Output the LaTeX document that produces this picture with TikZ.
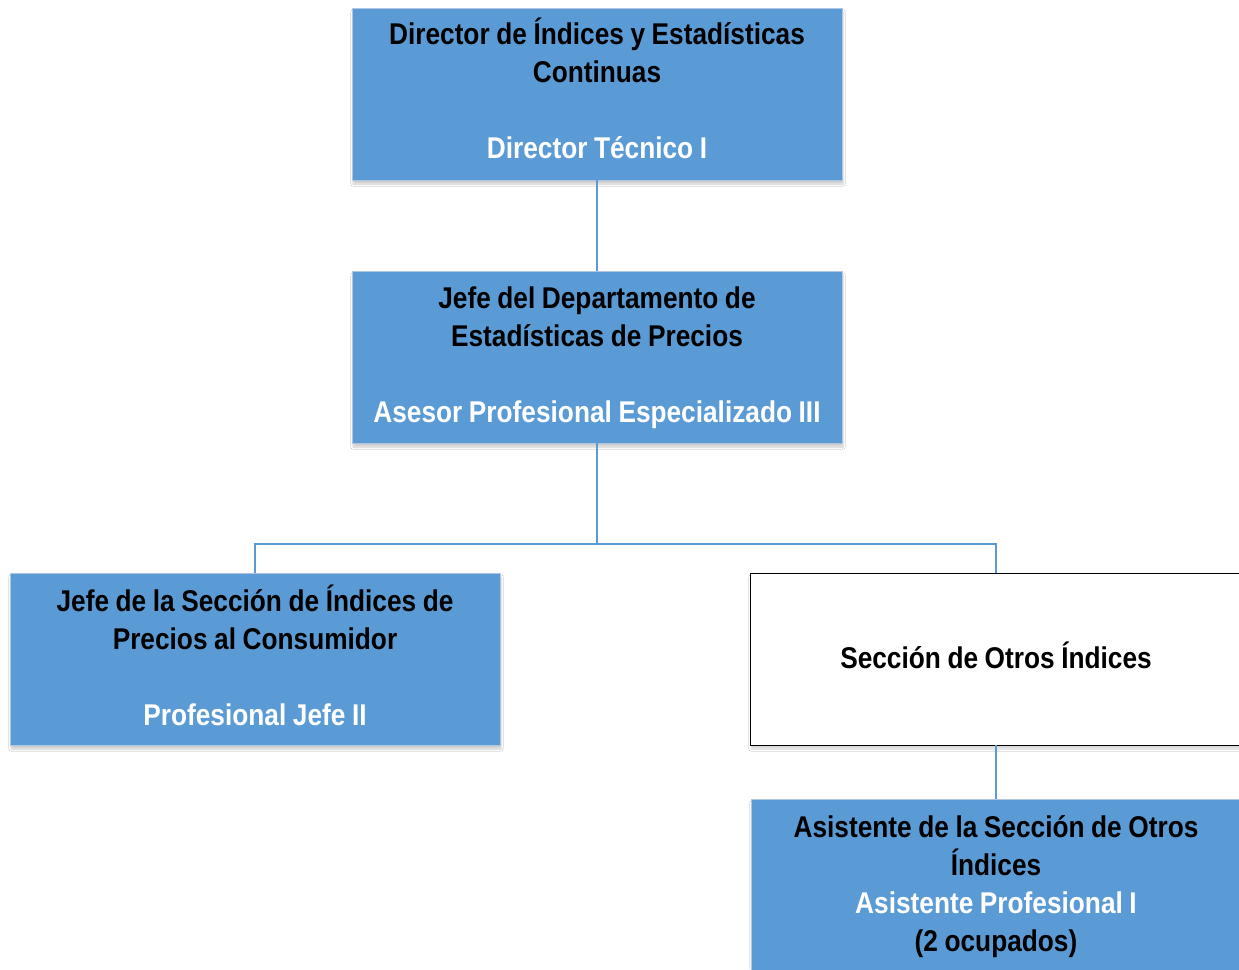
\documentclass[tikz,border=0pt]{standalone}
\usepackage{fontspec}
\setmainfont{Liberation Sans}[FakeStretch=0.875,WordSpace=0.9]
\usetikzlibrary{shadows.blur}
\definecolor{boxblue}{RGB}{91,155,213}
\definecolor{boxedge}{RGB}{175,198,226}
\newcommand\boxtext[2]{\raisebox{#1}[\height][\depth]{\begin{tabular}{@{}c@{}}#2\end{tabular}}}
\tikzset{
  orgbox/.style={rectangle, fill=boxblue, draw=boxedge, line width=0.8pt,
    minimum width=490pt, minimum height=172pt,
    inner sep=0pt, font=\fontsize{30}{38}\selectfont\bfseries,
    blur shadow={shadow xshift=1pt, shadow yshift=-4pt, shadow blur steps=6, shadow opacity=20}},
  whitebox/.style={rectangle, fill=white, draw=black, line width=0.8pt,
    minimum width=492pt, minimum height=172pt,
    inner sep=0pt, font=\fontsize{30}{38}\selectfont\bfseries,
    blur shadow={shadow xshift=1pt, shadow yshift=-4pt, shadow blur steps=6, shadow opacity=16}},
  link/.style={draw=boxblue, line width=2pt}
}
\begin{document}
\begin{tikzpicture}[x=1pt,y=-1pt]
\useasboundingbox (0,0) rectangle (1239,969);
\fill[white] (0,0) rectangle (1239,969);
\node[orgbox] (dir) at (597,94) {\boxtext{0pt}{Director de Índices y Estadísticas\\Continuas\\ \\\textcolor{white}{Director Técnico I}}};
\node[orgbox] (jefe) at (597,357) {\boxtext{-1pt}{Jefe del Departamento de\\Estadísticas de Precios\\ \\\textcolor{white}{Asesor Profesional Especializado III}}};
\node[orgbox] (ipc) at (255,659) {\boxtext{-2pt}{Jefe de la Sección de Índices de\\Precios al Consumidor\\ \\\textcolor{white}{Profesional Jefe II}}};
\node[whitebox] (otros) at (996,659) {\boxtext{-2pt}{Sección de Otros Índices}};
\node[orgbox] (asis) at (996,885) {\boxtext{-2pt}{Asistente de la Sección de Otros\\Índices\\\textcolor{white}{Asistente Profesional I}\\(2 ocupados)}};
\coordinate (bus) at (597,544);
\draw[link] (dir.south) -- (jefe.north);
\draw[link] (jefe.south) -- (bus);
\draw[link] (bus) -| (ipc.north);
\draw[link] (bus) -| (otros.north);
\draw[link] (otros.south) -- (asis.north);
\end{tikzpicture}
\end{document}
